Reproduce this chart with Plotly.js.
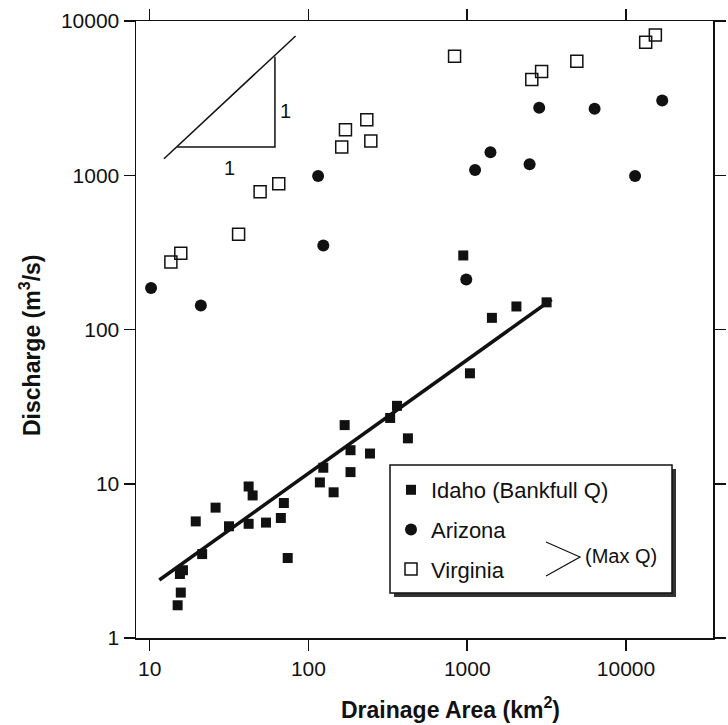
<!DOCTYPE html>
<html>
<head>
<meta charset="utf-8">
<script src="https://cdn.plot.ly/plotly-3.0.1.min.js"></script>
<style>body{margin:0;background:#fff}#chart{width:728px;height:725px}</style>
</head>
<body>
<div id="chart"></div>
<script>
// Idaho (bankfull discharge)
const idahoArea = [15, 15.7, 15.5, 16.2, 19.5, 21.4, 26, 31.6, 42, 44.5, 42, 54, 67, 70, 74,
  118, 124, 144, 169, 184, 184, 244, 327, 361, 423, 944, 1040, 1430, 2040, 3160];
const idahoQ = [1.63, 1.97, 2.6, 2.75, 5.7, 3.5, 7.0, 5.3, 9.6, 8.4, 5.5, 5.6, 6.0, 7.5, 3.3,
  10.2, 12.7, 8.8, 24, 16.5, 11.9, 15.7, 26.7, 32, 19.7, 302, 52, 119, 141, 150];
// Arizona (max discharge)
const arizonaArea = [10.2, 21, 115, 124, 986, 1120, 1400, 2470, 2840, 6340, 11400, 16900];
const arizonaQ = [186, 143, 990, 350, 211, 1080, 1410, 1180, 2740, 2700, 990, 3050];
// Virginia (max discharge)
const virginiaArea = [13.6, 15.7, 36.3, 49.6, 65, 162, 171, 233, 247, 832, 2550, 2940, 4900, 13300, 15300];
const virginiaQ = [274, 312, 415, 783, 880, 1525, 1970, 2290, 1670, 5900, 4180, 4710, 5480, 7290, 8100];
// Power-law fit to Idaho data: Q = fitCoef * A^fitExp
const fitCoef = 0.394;
const fitExp = 0.736;
const fitAreaRange = [11.5, 3400];
// 1:1 slope guide triangle
const guideArea = [12.3, 83];
const guideQ = [1280, 8000];
const triArea = [14.9, 61.5, 61.5];
const triQ = [1525, 1525, 5870];
// Tick labels
const xTicks = [10, 100, 1000, 10000];
const yTicks = [1, 10, 100, 1000, 10000];

const fitQ = fitAreaRange.map(a => fitCoef * Math.pow(a, fitExp));

const font = 'Liberation Sans, Arial, Helvetica, sans-serif';
const boldFont = 'Liberation Sans Narrow, Arial Narrow, Liberation Sans, Arial, sans-serif';

// pixel helpers for decorations (paper coordinates of the plot area)
const PL = 136, PW = 577, PB = 638, PH = 617;
const px = v => (v - PL) / PW;
const py = v => (PB - v) / PH;

const traces = [
  {x: fitAreaRange, y: fitQ, mode: 'lines', line: {color: '#111', width: 3.5}, showlegend: false, hoverinfo: 'skip'},
  {x: guideArea, y: guideQ, mode: 'lines', line: {color: '#111', width: 1.5}, showlegend: false, hoverinfo: 'skip'},
  {x: triArea, y: triQ, mode: 'lines', line: {color: '#111', width: 1.5}, showlegend: false, hoverinfo: 'skip'},
  {x: idahoArea, y: idahoQ, mode: 'markers', name: 'Idaho (Bankfull Q)', legendgroup: 'a',
   marker: {symbol: 'square', size: 10, color: '#111'}},
  {x: arizonaArea, y: arizonaQ, mode: 'markers', name: 'Arizona', legendgroup: 'b',
   marker: {symbol: 'circle', size: 12, color: '#111'}},
  {x: virginiaArea, y: virginiaQ, mode: 'markers', name: 'Virginia', legendgroup: 'c',
   marker: {symbol: 'square-open', size: 12, color: '#111', line: {width: 1.5}}}
];

const axisCommon = {
  type: 'log', showgrid: false, zeroline: false, showline: true, linecolor: '#111', linewidth: 1.5,
  mirror: 'ticks', ticks: 'outside', ticklen: 11, tickwidth: 1.5, tickcolor: '#111',
  tickfont: {family: font, size: 21, color: '#111'}
};

const titleFont = {family: boldFont, size: 23, color: '#111', weight: 'bold'};
const ann = (text, x, y, extra) => Object.assign({text: text, xref: 'paper', yref: 'paper', x: px(x), y: py(y),
  xanchor: 'center', yanchor: 'middle', showarrow: false, font: {family: font, size: 20, color: '#111'}}, extra || {});

const layout = {
  width: 728, height: 725,
  margin: {l: PL, r: 728 - PL - PW, t: 21, b: 725 - PB},
  paper_bgcolor: '#fff', plot_bgcolor: '#fff',
  showlegend: true,
  legend: {x: px(391), y: py(469), xanchor: 'left', yanchor: 'top', bgcolor: 'rgba(0,0,0,0)', borderwidth: 0,
    font: {family: font, size: 22, color: '#111'}, traceorder: 'grouped', tracegroupgap: 8, itemsizing: 'trace'},
  xaxis: Object.assign({}, axisCommon, {
    range: [Math.log10(8.2), Math.log10(35300)], tickvals: xTicks, ticktext: xTicks.map(String)
  }),
  yaxis: Object.assign({}, axisCommon, {
    range: [0, 4], tickvals: yTicks, ticktext: yTicks.map(String)
  }),
  shapes: [
    {type: 'rect', xref: 'paper', yref: 'paper', x0: px(394), x1: px(676), y0: py(597), y1: py(469),
     fillcolor: '#333', line: {width: 0}, layer: 'above'},
    {type: 'rect', xref: 'paper', yref: 'paper', x0: px(390), x1: px(672), y0: py(593), y1: py(465),
     fillcolor: '#fff', line: {color: '#111', width: 1.5}, layer: 'above'},
    {type: 'path', xref: 'paper', yref: 'paper',
     path: 'M ' + px(546) + ',' + py(542) + ' L ' + px(580) + ',' + py(557) + ' L ' + px(546) + ',' + py(576),
     line: {color: '#111', width: 1.2}, layer: 'above'}
  ],
  annotations: [
    ann('Drainage Area (km<sup>2</sup>)', 450, 708, {font: titleFont}),
    ann('Discharge (m<sup>3</sup>/s)', 30, 345, {textangle: -90, font: titleFont}),
    ann('(Max Q)', 621, 556),
    ann('1', 285, 111),
    ann('1', 229, 168)
  ]
};

Plotly.newPlot('chart', traces, layout, {displayModeBar: false, staticPlot: true});
</script>
</body>
</html>
